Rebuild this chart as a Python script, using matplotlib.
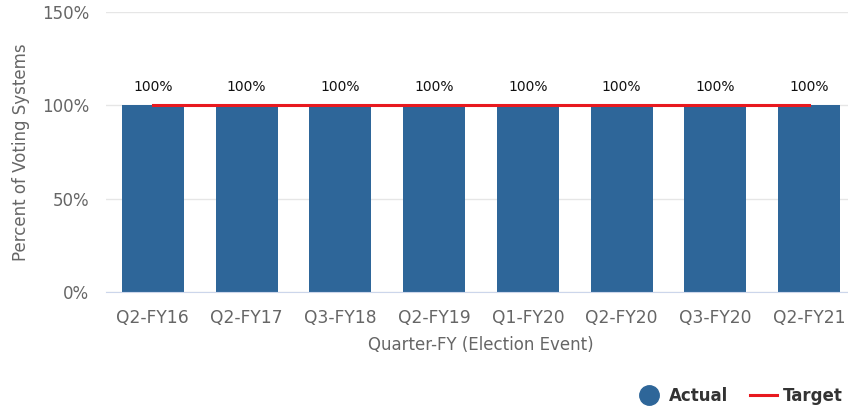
import matplotlib
matplotlib.use("Agg")
import matplotlib.pyplot as plt
from matplotlib.lines import Line2D

quarters = ["Q2-FY16", "Q2-FY17", "Q3-FY18", "Q2-FY19",
            "Q1-FY20", "Q2-FY20", "Q3-FY20", "Q2-FY21"]
actual = [100, 100, 100, 100, 100, 100, 100, 100]
target = [100, 100, 100, 100, 100, 100, 100, 100]

BAR = "#2e6699"
RED = "#e8191f"
GRID = "#e6e6e6"
TXT = "#666666"

fig = plt.figure(figsize=(8.48, 4.11), dpi=100)
ax = fig.add_axes([0.125, 0.2895, 0.8844, 0.6813])

x = list(range(len(quarters)))
ax.bar(x, actual, width=0.66, color=BAR, zorder=2)
ax.plot(x, target, color=RED, linewidth=2.2, zorder=3)

for xi, v in zip(x, actual):
    ax.text(xi, v + 6, f"{v}%", ha="center", va="bottom", fontsize=10, color="#111111")

ax.set_xlim(-0.5, len(quarters) - 0.5)
ax.set_ylim(0, 150)
ax.set_yticks([0, 50, 100, 150])
ax.set_yticklabels([f"{t}%" for t in [0, 50, 100, 150]], color=TXT, fontsize=12)
ax.set_xticks(x)
ax.set_xticklabels(quarters, color=TXT, fontsize=12.3)
ax.tick_params(axis="both", length=0)
ax.tick_params(axis="x", pad=12)
ax.tick_params(axis="y", pad=12)
ax.grid(axis="y", color=GRID, linewidth=1, zorder=0)
for s in ["top", "right", "left"]:
    ax.spines[s].set_visible(False)
ax.spines["bottom"].set_color("#ccd6eb")

ax.set_xlabel("Quarter-FY (Election Event)", color=TXT, fontsize=12, labelpad=7)
ax.set_ylabel("Percent of Voting Systems", color=TXT, fontsize=12, labelpad=9)

handles = [
    Line2D([], [], marker="o", linestyle="none", markersize=14, color=BAR),
    Line2D([], [], color=RED, linewidth=2.2),
]
fig.legend(handles, ["Actual", "Target"], loc="center right",
           bbox_to_anchor=(1.012, 0.037), ncol=2, frameon=False,
           prop={"weight": "bold", "size": 12}, labelcolor="#333333",
           handlelength=1.6, columnspacing=1.3, handletextpad=0.4)

fig.savefig("out.png", dpi=100)
